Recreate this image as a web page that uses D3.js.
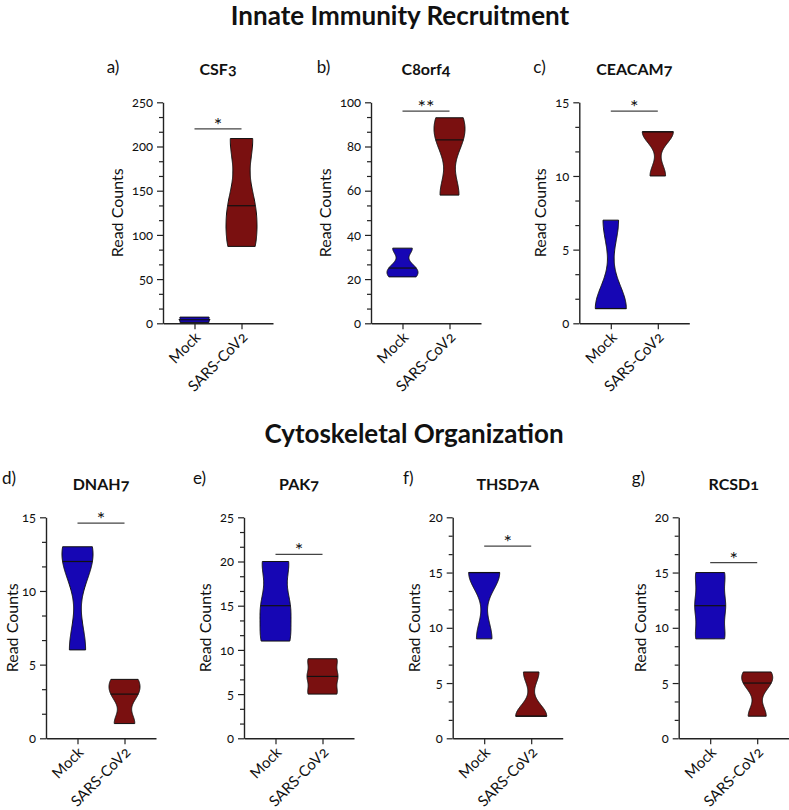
<!DOCTYPE html>
<html>
<head>
<meta charset="utf-8">
<script src="https://cdn.jsdelivr.net/npm/d3@7"></script>
<style>
  html, body { margin: 0; padding: 0; background: #fff; }
  svg { display: block; font-family: Lato, "Open Sans", sans-serif; font-feature-settings: "onum" 1; }
</style>
</head>
<body>
<svg id="chart" width="789" height="810"></svg>
<script>
// ---------------- data ----------------
const sectionTitles = ["Innate Immunity Recruitment", "Cytoskeletal Organization"];
const genes = ["CSF3", "C8orf4", "CEACAM7", "DNAH7", "PAK7", "THSD7A", "RCSD1"];
const panelLetters = ["a)", "b)", "c)", "d)", "e)", "f)", "g)"];
const groups = ["Mock", "SARS-CoV2"];
const mockValues = [[1, 4, 7], [21, 25, 34], [1, 1, 7], [6, 12, 13], [11, 15, 20], [9, 15, 15], [9, 12, 15]];
const sarsValues = [[87, 133, 209], [58, 83, 93], [10, 13, 13], [1, 3, 4], [5, 7, 9], [2, 2, 6], [2, 5, 6]];
const yMax = [250, 100, 15, 15, 25, 20, 20];
const yStep = [50, 20, 5, 5, 5, 5, 5];
const sigLabels = ["*", "**", "*", "*", "*", "*", "*"];
const sigValues = [220, 96, 14.4, 14.6, 20.8, 17.4, 15.9];
const yLabel = "Read Counts";

// ---------------- layout ----------------
const colors = { "Mock": "#1606b4", "SARS-CoV2": "#7a1010" };
const plotH = 221, plotW = 110, halfW = 15.5;
const panels = [
  { ax: 163,   top: 102.3, lx: 106.7, tY: 75,  lY: 73 },
  { ax: 371,   top: 102.3, lx: 316.7, tY: 75,  lY: 73 },
  { ax: 579.3, top: 102.3, lx: 533.3, tY: 75,  lY: 73 },
  { ax: 46,    top: 517.3, lx: 2,     tY: 490, lY: 484 },
  { ax: 244,   top: 517.3, lx: 193,   tY: 490, lY: 484 },
  { ax: 452.7, top: 517.3, lx: 403,   tY: 490, lY: 484 },
  { ax: 678.7, top: 517.3, lx: 631.7, tY: 490, lY: 484 }
];
const sectionPos = [{ x: 400, y: 25 }, { x: 414, y: 443 }];

const svg = d3.select("#chart");
svg.append("rect").attr("width", 789).attr("height", 810).attr("fill", "#fff");

sectionTitles.forEach((t, i) => {
  svg.append("text").attr("x", sectionPos[i].x).attr("y", sectionPos[i].y)
    .attr("text-anchor", "middle").attr("font-size", 26).attr("font-weight", 700)
    .attr("fill", "#111").text(t);
});

function kde(vals) {
  const bw = 0.45 * d3.deviation(vals);
  return v => d3.sum(vals, x => Math.exp(-0.5 * ((v - x) / bw) ** 2));
}

genes.forEach((gene, i) => {
  const p = panels[i];
  const g = svg.append("g").attr("transform", `translate(${p.ax},${p.top})`);
  const y = d3.scaleLinear().domain([0, yMax[i]]).range([plotH, 0]);
  const x = d3.scalePoint().domain(groups).range([0, plotW]).padding(0.67);

  // titles
  svg.append("text").attr("x", p.ax + plotW / 2).attr("y", p.tY)
    .attr("text-anchor", "middle").attr("font-size", 16).attr("font-weight", 700)
    .attr("fill", "#111").text(gene);
  svg.append("text").attr("x", p.lx).attr("y", p.lY)
    .attr("font-size", 17).attr("fill", "#111").text(panelLetters[i]);

  // violins
  const sets = [mockValues[i], sarsValues[i]];
  groups.forEach((grp, k) => {
    const vals = sets[k];
    const f = kde(vals);
    const lo = d3.min(vals), hi = d3.max(vals);
    const grid = d3.range(0, 101).map(j => ({ v: lo + (hi - lo) * j / 100 }));
    grid.forEach(d => d.d = f(d.v));
    const w = d3.scaleLinear().domain([0, d3.max(grid, d => d.d)]).range([0, halfW]);
    const cx = x(grp);
    const area = d3.area()
      .y(d => y(d.v))
      .x0(d => cx - w(d.d))
      .x1(d => cx + w(d.d))
      .curve(d3.curveLinear);
    g.append("path").datum(grid).attr("d", area)
      .attr("fill", colors[grp]).attr("stroke", "#111").attr("stroke-width", 1)
      .attr("stroke-linejoin", "round");
    const med = d3.median(vals);
    const hw = w(f(med));
    g.append("line").attr("x1", cx - hw).attr("x2", cx + hw)
      .attr("y1", y(med)).attr("y2", y(med))
      .attr("stroke", "#111").attr("stroke-width", 1.2);
  });

  // y axis
  const step = yStep[i];
  const majors = d3.range(0, yMax[i] + step / 2, step);
  const minors = d3.range(0, yMax[i] + 1e-9, step / 3).filter(v => majors.every(m => Math.abs(m - v) > 1e-6));
  const yAxisMinor = g.append("g").call(d3.axisLeft(y).tickValues(minors).tickSize(4).tickSizeOuter(0).tickFormat(""));
  yAxisMinor.select(".domain").remove();
  yAxisMinor.selectAll("line").attr("stroke", "#222").attr("stroke-width", 1.2);
  const yAxis = g.append("g").call(d3.axisLeft(y).tickValues(majors).tickSize(6).tickSizeOuter(0).tickPadding(4));
  yAxis.select(".domain").attr("stroke", "#222").attr("stroke-width", 1.4);
  yAxis.selectAll("line").attr("stroke", "#222").attr("stroke-width", 1.2);
  yAxis.selectAll("text").attr("font-size", 13).attr("font-family", "Lato, sans-serif").attr("fill", "#111");

  // x axis
  const xAxis = g.append("g").attr("transform", `translate(0,${plotH})`)
    .call(d3.axisBottom(x).tickSize(6).tickSizeOuter(0).tickFormat(""));
  xAxis.select(".domain").attr("stroke", "#222").attr("stroke-width", 1.4);
  xAxis.selectAll("line").attr("stroke", "#222").attr("stroke-width", 1.2);
  groups.forEach(grp => {
    g.append("text")
      .attr("transform", `translate(${x(grp) + 7},${plotH + 15}) rotate(-45)`)
      .attr("text-anchor", "end").attr("font-size", 15).attr("fill", "#111").text(grp);
  });

  // y label (kept inside the page's left edge)
  const bb = yAxis.node().getBBox();
  const labelX = Math.max(bb.x - 9, 18 - p.ax);
  g.append("text")
    .attr("transform", `translate(${labelX},${plotH / 2}) rotate(-90)`)
    .attr("text-anchor", "middle").attr("font-size", 16).attr("fill", "#111").text(yLabel);

  // significance
  const sy = y(sigValues[i]);
  g.append("line").attr("x1", x(groups[0])).attr("x2", x(groups[1]))
    .attr("y1", sy).attr("y2", sy).attr("stroke", "#444").attr("stroke-width", 1.2);
  g.append("text").attr("x", (x(groups[0]) + x(groups[1])) / 2).attr("y", sy + 3)
    .attr("text-anchor", "middle").attr("font-size", 20).attr("fill", "#111").text(sigLabels[i]);
});
</script>
</body>
</html>
